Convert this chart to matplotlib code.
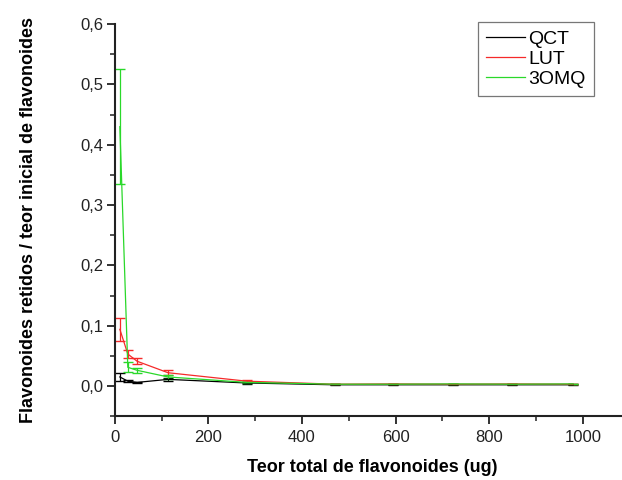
import matplotlib.pyplot as plt
from matplotlib.lines import Line2D
import numpy as np

plt.rcParams['font.family'] = ['Liberation Sans', 'DejaVu Sans']

# Data
teor = [11, 28, 48, 114, 282, 470, 595, 722, 849, 979]

qct = [0.015, 0.008, 0.006, 0.011, 0.005, 0.002, 0.002, 0.002, 0.002, 0.002]
qct_err = [0.006, 0.002, 0.001, 0.003, 0.001, 0.0005, 0.0005, 0.0005, 0.0005, 0.0005]

lut = [0.094, 0.053, 0.041, 0.022, 0.008, 0.003, 0.0035, 0.003, 0.0035, 0.003]
lut_err = [0.019, 0.007, 0.005, 0.004, 0.002, 0.0005, 0.0005, 0.0005, 0.0005, 0.0005]

omq = [0.43, 0.031, 0.026, 0.015, 0.006, 0.003, 0.003, 0.0035, 0.003, 0.0035]
omq_err = [0.095, 0.008, 0.004, 0.003, 0.001, 0.0005, 0.0005, 0.0005, 0.0005, 0.0005]

names = ['QCT', 'LUT', '3OMQ']
colors = ['black', '#f52a2a', '#2ad82a']

fig = plt.figure(figsize=(6.22, 4.8), dpi=100)
ax = fig.add_axes([0.1844, 0.133, 0.828, 0.8167])

for y, e, c in zip([qct, lut, omq], [qct_err, lut_err, omq_err], colors):
    ax.errorbar(teor, y, yerr=e, color=c, lw=0.9, capsize=3.5, elinewidth=0.9)

ax.set_xlim(0, 1100)
ax.set_ylim(-0.05, 0.6)
ax.set_xticks([0, 200, 400, 600, 800, 1000])
ax.set_xticks(np.arange(100, 1100, 200), minor=True)
ax.set_yticks([0.0, 0.1, 0.2, 0.3, 0.4, 0.5, 0.6])
ax.set_yticks(np.arange(-0.05, 0.6, 0.1), minor=True)
ax.set_yticklabels(['0,0', '0,1', '0,2', '0,3', '0,4', '0,5', '0,6'])

for s in ['top', 'right']:
    ax.spines[s].set_visible(False)
for s in ['left', 'bottom']:
    ax.spines[s].set_linewidth(1.5)
    ax.spines[s].set_color('#222222')

ax.tick_params(which='major', direction='out', length=6, width=1.3, labelsize=12, colors='#222222', pad=2)
ax.tick_params(which='minor', direction='out', length=3.5, width=1.1, colors='#222222')
ax.tick_params(axis='x', which='major', pad=4)

ax.set_xlabel('Teor total de flavonoides (ug)', fontsize=13, fontweight='bold', labelpad=10)
ax.set_ylabel('Flavonoides retidos / teor inicial de flavonoides', fontsize=13, fontweight='bold', labelpad=31)

handles = [Line2D([], [], color=c, lw=0.9) for c in colors]
leg = ax.legend(handles, names, loc='upper left', bbox_to_anchor=(0.7055, 1.0045), fontsize=14, frameon=True,
                fancybox=False, edgecolor='#555555', handlelength=2.0, borderpad=0.4,
                labelspacing=0.13, handletextpad=0.2, borderaxespad=0)
leg.get_frame().set_linewidth(0.9)

fig.savefig('out.png', dpi=100)
